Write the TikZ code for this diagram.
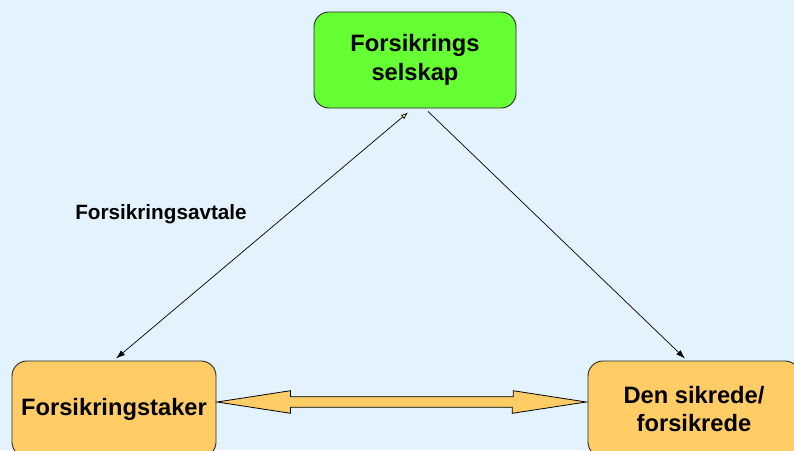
\documentclass[tikz,border=0pt]{standalone}
\usepackage{fontspec}
\setmainfont{Liberation Sans}
\usetikzlibrary{arrows.meta,calc}
\definecolor{bgblue}{RGB}{227,243,254}
\definecolor{boxgreen}{RGB}{102,255,51}
\definecolor{boxorange}{RGB}{255,204,102}
\definecolor{edgegray}{RGB}{40,40,40}
\tikzset{
  box/.style={draw=edgegray, line width=0.9pt, rounded corners=15pt, align=center,
    font=\fontsize{23.7}{28.3}\selectfont\bfseries, inner sep=0pt},
  link/.style={line width=0.7pt, -{Latex[length=9pt,width=6pt]}},
  label/.style={font=\fontsize{20.7}{24}\selectfont\bfseries, inner sep=0pt}
}
\begin{document}
\begin{tikzpicture}[x=1pt,y=-1pt]
\useasboundingbox (0,0) rectangle (794,450);
\fill[bgblue] (0,0) rectangle (794,450);
\begin{scope}
\clip (0,0) rectangle (794,450);
\node[box, fill=boxgreen, minimum width=202pt, minimum height=96pt] (top) at (415,60) {Forsikrings\\selskap};
\node[box, fill=boxorange, minimum width=204pt, minimum height=96pt] (left) at (114,409) {Forsikringstaker};
\node[box, fill=boxorange, minimum width=212pt, minimum height=96pt] (right) at (694,409) {Den sikrede/\\forsikrede};
\node[label] (avtale) at (161,214.5) {Forsikringsavtale};

\draw[line width=0.7pt, {Latex[length=7pt,width=5pt,fill=yellow!50!white]}-{Latex[length=9pt,width=6pt]}]
  ($(top.south)+(-7,4)$) -- ($(left.north)+(2,-2)$);
\draw[link] ($(top.south)+(13,3)$) -- ($(right.north)+(-9,-2)$);

\draw[fill=boxorange, draw=black, line width=0.8pt, line join=miter]
  ($(left.east)+(0.7,-7)$) -- ++(73.3,-11.3) -- ++(0,6) -- ++(222.7,0) -- ++(0,-6)
  -- ($(right.west)+(-1.3,-7)$) -- ++(-74,11.3) -- ++(0,-6) -- ++(-221.7,0) -- ++(0,6) -- cycle;
\end{scope}
\end{tikzpicture}
\end{document}
